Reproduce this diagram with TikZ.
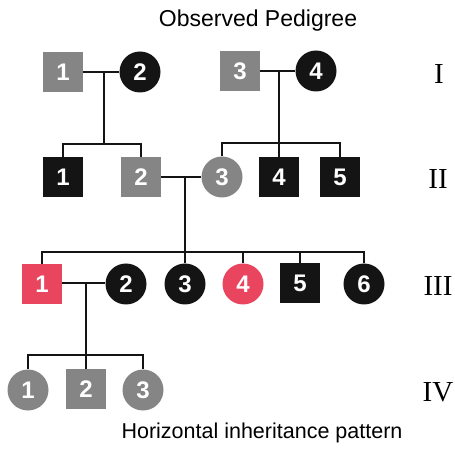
\documentclass[tikz,border=0pt]{standalone}
\usepackage{fontspec}
\setmainfont{Liberation Serif}
\newfontfamily\arialf{Liberation Sans}
\definecolor{pgray}{RGB}{133,133,133}
\definecolor{pred}{RGB}{233,69,94}
\definecolor{pblack}{RGB}{20,20,20}
\begin{document}
\begin{tikzpicture}[x=1pt,y=-1pt,
  sqn/.style={rectangle, minimum size=40pt, inner sep=0pt, text=white, font=\arialf\bfseries\fontsize{24}{24}\selectfont},
  cin/.style={circle, minimum size=41pt, inner sep=0pt, text=white, font=\arialf\bfseries\fontsize{24}{24}\selectfont},
  aff/.style={fill=pblack},
  car/.style={fill=pgray},
  redn/.style={fill=pred},
  lnk/.style={line width=1.8pt, pblack},
  gen/.style={font=\fontsize{29}{29}\selectfont},
  captxt/.style={font=\arialf\fontsize{23}{23}\selectfont}
]
\useasboundingbox (0,0) rectangle (455,454);
\node[captxt] (title) at (258,21) {Observed Pedigree};
\node[captxt, font=\arialf\fontsize{21.5}{21.5}\selectfont] (caption) at (262,433) {Horizontal inheritance pattern};
% Generation I
\node[sqn,car] (i1) at (63,72) {1};
\node[cin,aff] (i2) at (140,72) {2};
\node[sqn,car] (i3) at (240,71) {3};
\node[cin,aff] (i4) at (316,71) {4};
% Generation II
\node[sqn,aff] (ii1) at (63,177) {1};
\node[sqn,car] (ii2) at (141,177) {2};
\node[cin,car] (ii3) at (222,177) {3};
\node[sqn,aff] (ii4) at (279,177) {4};
\node[sqn,aff] (ii5) at (340,177) {5};
% Generation III
\node[sqn,redn] (iii1) at (42,284) {1};
\node[cin,aff] (iii2) at (126,284) {2};
\node[cin,aff] (iii3) at (185,284) {3};
\node[cin,redn] (iii4) at (243,284) {4};
\node[sqn,aff] (iii5) at (300,283) {5};
\node[cin,aff] (iii6) at (364,284) {6};
% Generation IV
\node[cin,car] (iv1) at (28,390) {1};
\node[sqn,car] (iv2) at (86,389) {2};
\node[cin,car] (iv3) at (143,390) {3};
% Generation labels
\node[gen] (gI) at (439,74) {I};
\node[gen] (gII) at (438,179) {II};
\node[gen] (gIII) at (438,286) {III};
\node[gen] (gIV) at (438,392) {IV};
% connectors
\coordinate (m1) at (104,72);
\coordinate (s1) at (104,144);
\coordinate (m2) at (279,71);
\coordinate (s2) at (279,143);
\coordinate (m3) at (185,177);
\coordinate (s3) at (185,252);
\coordinate (m4) at (86,283);
\coordinate (s4) at (86,355);
\draw[lnk] (i1.east) -- (i2.west);
\draw[lnk] (m1) -- (s1);
\draw[lnk] (ii1.north) |- (s1) -| (ii2.north);
\draw[lnk] (i3.east) -- (i4.west);
\draw[lnk] (m2) -- (ii4.north);
\draw[lnk] (ii3.north) |- (s2) -| (ii5.north);
\draw[lnk] (ii2.east) -- (ii3.west);
\draw[lnk] (m3) -- (iii3.north);
\draw[lnk] (iii1.north) |- (s3) -| (iii6.north);
\draw[lnk] (iii4.north) -- (iii4.north |- s3);
\draw[lnk] (iii5.north) -- (iii5.north |- s3);
\draw[lnk] (iii1.east |- m4) -- (iii2.west |- m4);
\draw[lnk] (m4) -- (iv2.north);
\draw[lnk] (iv1.north) |- (s4) -| (iv3.north);
\end{tikzpicture}
\end{document}
